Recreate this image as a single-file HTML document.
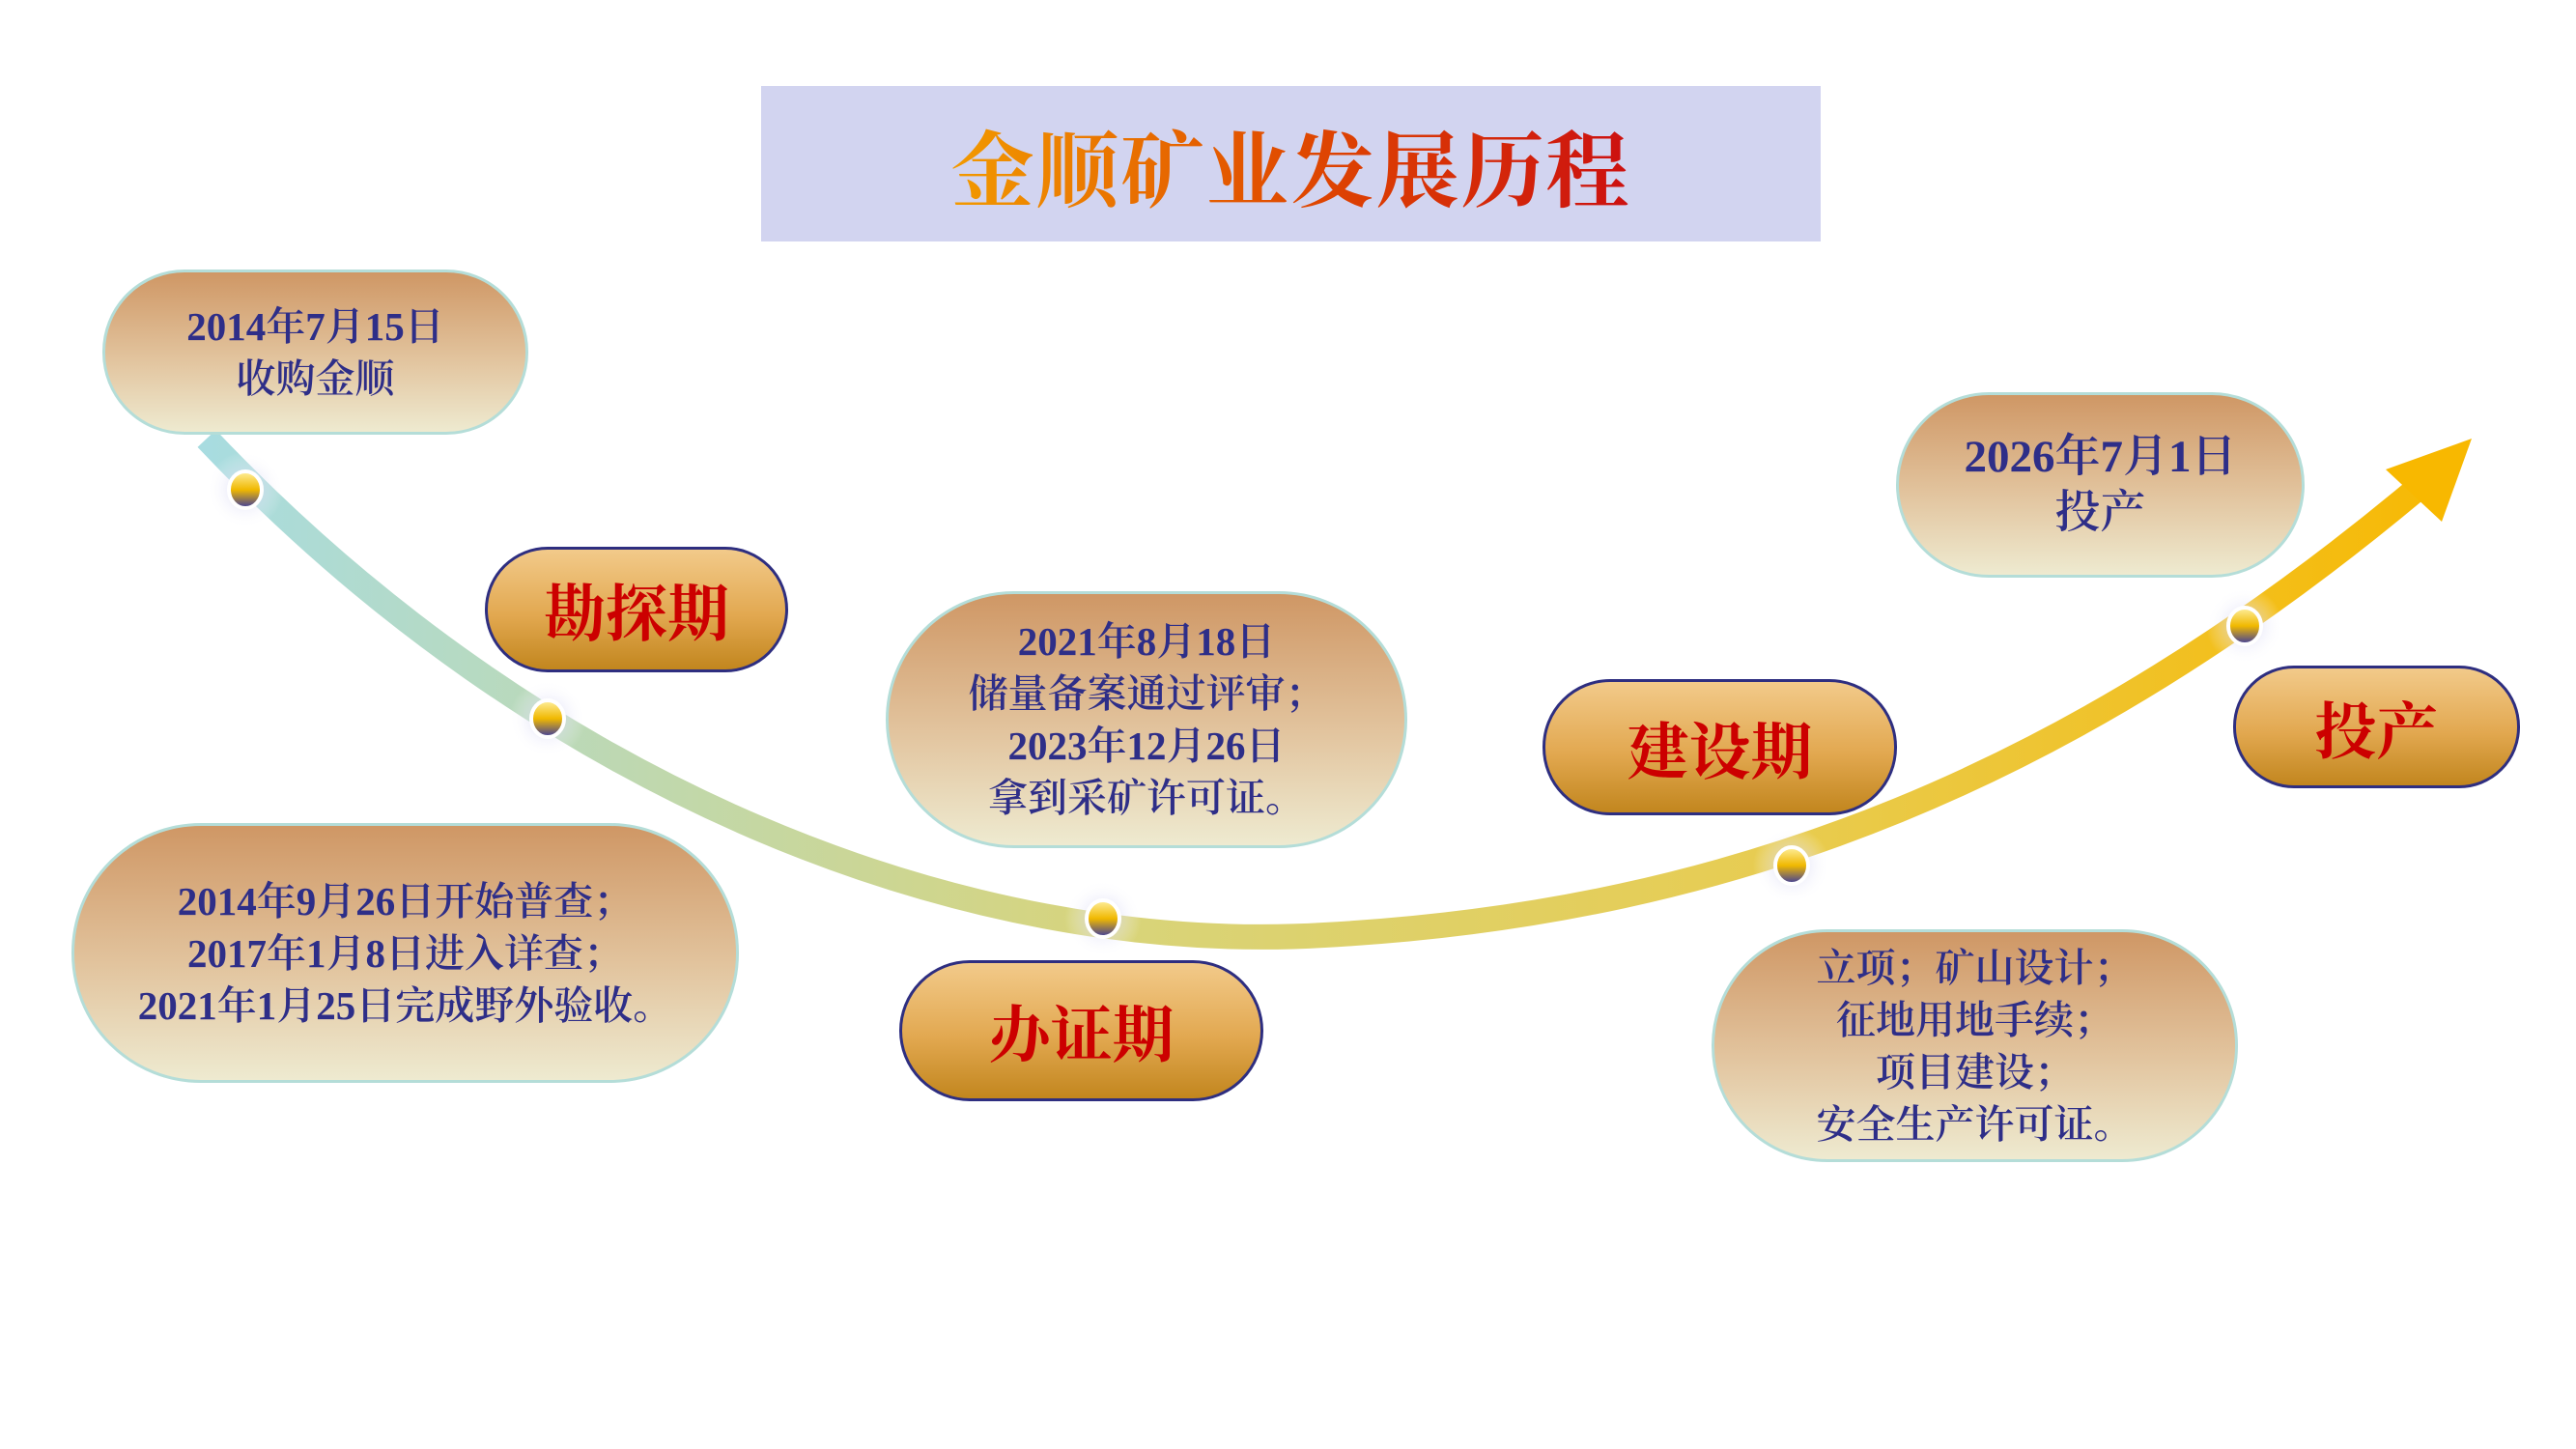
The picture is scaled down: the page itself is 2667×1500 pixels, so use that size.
<!DOCTYPE html>
<html><head><meta charset="utf-8">
<style>
html,body{margin:0;padding:0;background:#fff;}
body{width:2667px;height:1500px;position:relative;overflow:hidden;font-family:"Liberation Serif","Noto Serif CJK SC",serif;}
.box{position:absolute;box-sizing:border-box;display:flex;align-items:center;justify-content:center;text-align:center;}
.info{background:linear-gradient(#cf9765,#e2c49e 55%,#eeead0);border:3px solid #b4ddd8;color:#2e2e88;font-size:41px;line-height:54px;font-weight:600;}
.phase{background:linear-gradient(#f2ca8a,#e2a850 55%,#c2861e);border:3px solid #2e2e80;color:#cc0000;font-size:64px;font-weight:bold;}
.title{position:absolute;left:788px;top:89px;width:1097px;height:161px;background:#d2d4f0;display:flex;align-items:center;justify-content:center;}
.title span{font-size:86px;font-family:"Noto Serif CJK SC",serif;font-weight:bold;background:linear-gradient(90deg,#f29a00,#e04a00 50%,#cc1010);-webkit-background-clip:text;background-clip:text;color:transparent;letter-spacing:2px;}
</style></head><body>
<div class="title"><span>金顺矿业发展历程</span></div>

<svg width="2667" height="1500" style="position:absolute;left:0;top:0">
<defs>
<linearGradient id="g" x1="214" y1="0" x2="2559" y2="0" gradientUnits="userSpaceOnUse">
<stop offset="0" stop-color="#a8dce0"/><stop offset="0.4" stop-color="#d8d47a"/><stop offset="0.7" stop-color="#e8cc50"/><stop offset="1" stop-color="#f8b800"/>
</linearGradient>
<linearGradient id="m" x1="0" y1="0" x2="0" y2="1"><stop offset="0" stop-color="#fff0a0"/><stop offset="0.5" stop-color="#f0b800"/><stop offset="1" stop-color="#3a3aa0"/></linearGradient>
<radialGradient id="gl"><stop offset="0" stop-color="#c8c8f0" stop-opacity="0.8"/><stop offset="1" stop-color="#fff" stop-opacity="0"/></radialGradient>
</defs>
<path d="M214,454 C560,820 1000,990 1371,968 C1800,945 2150,800 2500,508" fill="none" stroke="url(#g)" stroke-width="26"/>
<polygon points="2559,454 2470,486 2528,540" fill="#f8b800"/>
<g>
<circle cx="254" cy="507" r="40" fill="url(#gl)"/><ellipse cx="254" cy="507" rx="17" ry="19" fill="url(#m)" stroke="#fff" stroke-width="4"/>
<circle cx="567" cy="744" r="40" fill="url(#gl)"/><ellipse cx="567" cy="744" rx="17" ry="19" fill="url(#m)" stroke="#fff" stroke-width="4"/>
<circle cx="1142" cy="951" r="40" fill="url(#gl)"/><ellipse cx="1142" cy="951" rx="17" ry="19" fill="url(#m)" stroke="#fff" stroke-width="4"/>
<circle cx="1855" cy="896" r="40" fill="url(#gl)"/><ellipse cx="1855" cy="896" rx="17" ry="19" fill="url(#m)" stroke="#fff" stroke-width="4"/>
<circle cx="2324" cy="648" r="40" fill="url(#gl)"/><ellipse cx="2324" cy="648" rx="17" ry="19" fill="url(#m)" stroke="#fff" stroke-width="4"/>
</g>
</svg>

<div class="box info" style="left:106px;top:279px;width:441px;height:171px;border-radius:85px/85px;">2014年7月15日<br>收购金顺</div>
<div class="box phase" style="left:502px;top:566px;width:314px;height:130px;border-radius:65px;">勘探期</div>
<div class="box info" style="left:74px;top:852px;width:691px;height:269px;border-radius:134px;">2014年9月26日开始普查；<br>2017年1月8日进入详查；<br>2021年1月25日完成野外验收。</div>
<div class="box info" style="left:917px;top:612px;width:540px;height:266px;border-radius:133px;">2021年8月18日<br>储量备案通过评审；<br>2023年12月26日<br>拿到采矿许可证。</div>
<div class="box phase" style="left:931px;top:994px;width:377px;height:146px;border-radius:73px;">办证期</div>
<div class="box phase" style="left:1597px;top:703px;width:367px;height:141px;border-radius:70px;">建设期</div>
<div class="box info" style="left:1963px;top:406px;width:423px;height:192px;border-radius:96px;font-size:47px;line-height:58px;">2026年7月1日<br>投产</div>
<div class="box phase" style="left:2312px;top:689px;width:297px;height:127px;border-radius:63px;">投产</div>
<div class="box info" style="left:1772px;top:962px;width:545px;height:241px;border-radius:120px;">立项；矿山设计；<br>征地用地手续；<br>项目建设；<br>安全生产许可证。</div>
</body></html>
